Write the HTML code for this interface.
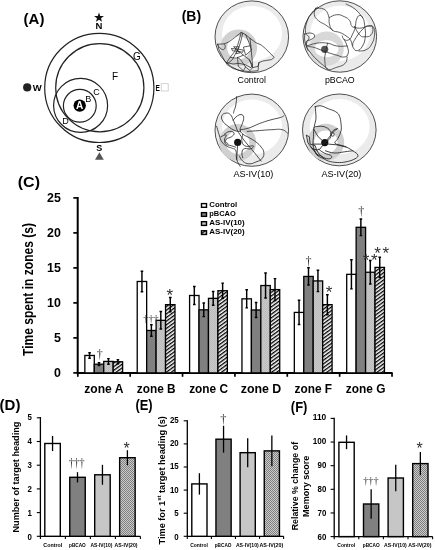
<!DOCTYPE html>
<html lang="en"><head><meta charset="utf-8"><title>Figure</title>
<style>
html,body{margin:0;padding:0;background:#fff;}
body{width:435px;height:550px;overflow:hidden;}
svg{display:block;will-change:transform;}
text{font-family:"Liberation Sans",sans-serif;fill:#000;}
.b{font-weight:bold;}
text.dg{font-family:"Liberation Serif",serif;fill:#333;}
</style></head><body>
<svg width="435" height="550" viewBox="0 0 435 550">
<defs>
<pattern id="hatch" width="2.95" height="2.95" patternUnits="userSpaceOnUse" patternTransform="rotate(-36)">
<rect width="2.95" height="2.95" fill="#fff"/><rect width="2.95" height="1.35" fill="#000"/>
</pattern>
<pattern id="dots" width="2" height="2" patternUnits="userSpaceOnUse">
<rect width="2" height="2" fill="#c9c9c9"/><rect width="1" height="1" fill="#bcbcbc"/><rect x="1" y="1" width="1" height="1" fill="#bcbcbc"/>
</pattern>
<pattern id="fine" width="2" height="2" patternUnits="userSpaceOnUse">
<rect width="2" height="2" fill="#cccccc"/><rect width="1" height="1" fill="#7e7e7e"/><rect x="1" y="1" width="1" height="1" fill="#7e7e7e"/>
</pattern>
</defs>
<rect width="435" height="550" fill="#fff"/>
<g id="panelA">
<text x="23.6" y="23.9" font-size="14.5" class="b" textLength="20.8" lengthAdjust="spacingAndGlyphs">(A)</text>
<polygon points="99.00,12.40 100.23,15.90 103.95,15.99 101.00,18.25 102.06,21.81 99.00,19.70 95.94,21.81 97.00,18.25 94.05,15.99 97.77,15.90" fill="#111"/>
<text x="99" y="29.2" font-size="9.5" class="b" text-anchor="middle">N</text>
<circle cx="99.3" cy="87.9" r="54.6" fill="none" stroke="#222" stroke-width="1.2"/>
<circle cx="99.8" cy="87.7" r="44.1" fill="none" stroke="#222" stroke-width="1.2"/>
<circle cx="80.6" cy="105.4" r="27" fill="none" stroke="#222" stroke-width="1.2"/>
<circle cx="79.8" cy="105.8" r="16.4" fill="none" stroke="#222" stroke-width="1.2"/>
<circle cx="79.7" cy="105.6" r="6.2" fill="#000"/>
<text x="79.7" y="109.2" font-size="10" class="b" text-anchor="middle" fill="#fff" style="fill:#fff">A</text>
<text x="88.3" y="101.7" font-size="9" text-anchor="middle">B</text>
<text x="96.4" y="95.2" font-size="9" text-anchor="middle">C</text>
<text x="65.5" y="124.4" font-size="9" text-anchor="middle">D</text>
<text x="115" y="79.5" font-size="10" text-anchor="middle">F</text>
<text x="136.8" y="59.6" font-size="10" text-anchor="middle">G</text>
<circle cx="27.2" cy="87.4" r="4.1" fill="#222"/>
<text x="32.8" y="90.6" font-size="9.5" class="b">W</text>
<text x="155.6" y="90.7" font-size="9" class="b" textLength="4.4" lengthAdjust="spacingAndGlyphs">E</text>
<rect x="161.2" y="83.7" width="7" height="7.3" fill="#fff" stroke="#c8c8c8" stroke-width="0.8"/>
<text x="99.2" y="150.8" font-size="9" class="b" text-anchor="middle">S</text>
<polygon points="99.4,152.3 95,159.8 103.8,159.8" fill="#555"/>
</g>
<g id="panelB">
<text x="181.7" y="21.4" font-size="14.5" class="b" textLength="19.4" lengthAdjust="spacingAndGlyphs">(B)</text>
<ellipse cx="251.8" cy="36.8" rx="36.8" ry="35.9" fill="#ebebeb" stroke="#3c3c3c" stroke-width="0.9"/>
<ellipse cx="252.1" cy="33.6" rx="30" ry="27.6" fill="#fff"/>
<circle cx="238.7" cy="47.8" r="18.4" fill="#d0d0d0"/>
<ellipse cx="238.7" cy="47.8" rx="11.6" ry="11.6" fill="#fff"/>
<text x="251.8" y="83.2" font-size="8.8" text-anchor="middle">Control</text>
<ellipse cx="339.8" cy="36.5" rx="36.8" ry="35.7" fill="#ebebeb" stroke="#3c3c3c" stroke-width="0.9"/>
<ellipse cx="340.1" cy="33.3" rx="30" ry="27.6" fill="#fff"/>
<circle cx="326.6" cy="48.7" r="17.2" fill="#d8d8d8"/>
<ellipse cx="326.6" cy="48.7" rx="11.8" ry="8.5" fill="#fff"/>
<circle cx="324.7" cy="49.3" r="3.6" fill="#555"/>
<text x="339.8" y="83.2" font-size="8.8" text-anchor="middle">pBCAO</text>
<ellipse cx="251.8" cy="130.2" rx="36.8" ry="36.1" fill="#ebebeb" stroke="#3c3c3c" stroke-width="0.9"/>
<ellipse cx="252.1" cy="127.0" rx="30" ry="27.6" fill="#fff"/>
<circle cx="237.7" cy="142.4" r="18.4" fill="#d0d0d0"/>
<ellipse cx="237.7" cy="142.4" rx="11.6" ry="11.6" fill="#fff"/>
<circle cx="237.7" cy="142.4" r="3.6" fill="#111"/>
<text x="253.4" y="177.0" font-size="9.1" text-anchor="middle">AS-IV(10)</text>
<ellipse cx="339.3" cy="129.9" rx="36.8" ry="35.9" fill="#ebebeb" stroke="#3c3c3c" stroke-width="0.9"/>
<ellipse cx="339.6" cy="126.7" rx="30" ry="27.6" fill="#fff"/>
<circle cx="325.8" cy="142.2" r="18.4" fill="#d0d0d0"/>
<ellipse cx="325.8" cy="142.2" rx="11.6" ry="11.6" fill="#fff"/>
<circle cx="324.8" cy="142.6" r="3.6" fill="#111"/>
<text x="341.4" y="177.0" font-size="9.1" text-anchor="middle">AS-IV(20)</text>
<path d="M217.7 44.2 L224.3 43.9 L228.7 42.0 L234.6 37.6 L241.2 32.4 L245.6 34.6 L250.0 38.3 L255.9 42.7 L261.1 44.9 L265.5 48.6 L269.9 53.0 L274.3 57.4 L271.4 59.6 L262.6 61.1 L258.9 62.6 L258.4 66.5 L258.1 70.7 L249.3 71.5 L240.5 70.7 L233.1 68.5 L227.2 64.8 L222.8 57.4 L219.1 50.1 L217.7 44.2" fill="none" stroke="#222" stroke-width="0.72" stroke-linejoin="round" stroke-linecap="round"/>
<path d="M217.7 44.2 C218.2 45.1 218.4 46.5 219.9 47.9 C221.4 49.2 222.2 49.8 223.6 49.5 C224.9 49.1 225.0 47.9 225.2 46.5 C225.4 45.1 224.5 44.6 224.3 43.9" fill="none" stroke="#222" stroke-width="0.72" stroke-linejoin="round" stroke-linecap="round"/>
<path d="M241.2 32.4 L239.7 38.3 L237.5 45.7 L234.6 51.5 L230.2 57.4 L226.5 62.6 L228.0 63.3 L232.4 59.6 L239.0 47.1 L241.2 39.8 L242.7 33.1" fill="none" stroke="#222" stroke-width="0.72" stroke-linejoin="round" stroke-linecap="round"/>
<path d="M231.7 48.6 L237.5 49.0 L243.4 50.1 L242.7 52.3 L237.5 51.2 L232.4 50.8 L231.7 48.6" fill="none" stroke="#222" stroke-width="0.72" stroke-linejoin="round" stroke-linecap="round"/>
<path d="M233.9 46.8 L239.7 53.0 L236.1 53.7 L239.0 46.8 L233.9 46.8" fill="none" stroke="#222" stroke-width="0.72" stroke-linejoin="round" stroke-linecap="round"/>
<path d="M237.5 50.1 L243.4 55.2 L249.3 59.6 L252.3 64.8 L250.8 67.7 L245.6 64.8 L239.0 63.3 L233.1 64.0 L226.5 62.6" fill="none" stroke="#222" stroke-width="0.72" stroke-linejoin="round" stroke-linecap="round"/>
<path d="M250.0 38.3 L250.8 45.7 L251.5 53.0 L252.3 61.8 L252.5 67.7 L258.1 66.3 L258.9 62.6" fill="none" stroke="#222" stroke-width="0.72" stroke-linejoin="round" stroke-linecap="round"/>
<path d="M245.6 34.6 L249.0 42.7 L251.5 50.1 L245.6 55.2 L243.4 47.1 L250.8 45.7" fill="none" stroke="#222" stroke-width="0.72" stroke-linejoin="round" stroke-linecap="round"/>
<path d="M237.5 57.4 L238.3 66.3 L243.4 70.7 L245.6 67.0 L240.5 59.6 L237.5 57.4" fill="none" stroke="#222" stroke-width="0.72" stroke-linejoin="round" stroke-linecap="round"/>
<path d="M245.6 67.0 L250.0 70.7 L252.5 67.7 L249.3 59.6" fill="none" stroke="#222" stroke-width="0.72" stroke-linejoin="round" stroke-linecap="round"/>
<path d="M230.2 57.4 L236.1 58.2 L243.4 55.2" fill="none" stroke="#222" stroke-width="0.72" stroke-linejoin="round" stroke-linecap="round"/>
<path d="M315.6 8.3 C317.7 8.5 320.7 7.4 323.9 9.2 C327.1 11.0 327.1 12.0 328.5 15.6 C329.9 19.3 328.4 20.2 329.4 23.9 C330.5 27.6 330.2 28.2 332.7 30.3 C335.3 32.5 336.2 31.0 339.5 32.4 C342.9 33.7 343.2 33.9 346.0 35.9 C348.7 37.8 348.7 37.1 350.6 40.1 C352.4 43.1 351.6 45.2 353.3 47.8 C355.0 50.4 355.1 51.0 357.4 50.6 C359.7 50.1 360.6 49.4 362.5 46.0 C364.5 42.5 364.7 41.8 365.3 36.8 C365.8 31.7 365.3 30.4 364.7 25.7 C364.1 21.1 364.3 20.6 362.9 18.0 C361.5 15.5 360.9 15.1 359.2 15.6 C357.6 16.2 357.3 17.2 356.3 20.2 C355.3 23.2 356.1 24.1 355.2 27.6 C354.3 31.0 354.1 31.0 352.6 34.0 C351.1 37.0 351.4 38.2 349.3 39.5 C347.2 40.9 345.9 40.5 344.1 39.5 C342.4 38.6 342.8 36.8 342.3 35.9" fill="none" stroke="#222" stroke-width="0.72" stroke-linejoin="round" stroke-linecap="round"/>
<path d="M315.6 8.3 C315.3 9.9 313.7 11.6 314.3 14.7 C315.0 17.8 315.5 18.0 318.4 20.6 C321.2 23.2 322.2 22.6 325.7 25.0 C329.3 27.4 331.0 29.0 332.7 30.3" fill="none" stroke="#222" stroke-width="0.72" stroke-linejoin="round" stroke-linecap="round"/>
<path d="M329.4 17.5 C331.3 16.8 333.1 14.9 336.8 14.7 C340.5 14.5 340.9 15.1 344.1 16.6 C347.4 18.0 347.8 18.3 349.7 20.6 C351.5 22.9 350.1 24.0 351.5 25.7 C352.9 27.5 352.6 27.0 355.2 27.6 C357.7 28.1 358.2 28.4 361.6 28.0 C365.1 27.5 366.0 25.8 369.0 25.7 C372.0 25.7 372.2 25.3 373.6 27.6 C374.9 29.9 374.9 30.8 374.5 34.9 C374.0 39.1 373.8 40.5 371.7 44.1 C369.7 47.8 369.4 47.9 366.2 49.7 C363.0 51.4 360.7 50.8 358.9 51.1" fill="none" stroke="#222" stroke-width="0.72" stroke-linejoin="round" stroke-linecap="round"/>
<path d="M304.6 34.0 C306.2 33.8 308.5 32.6 311.0 33.1 C313.6 33.6 314.7 34.4 314.7 36.0 C314.7 37.7 313.1 38.2 311.0 39.5 C309.0 40.9 307.4 39.8 306.4 41.4 C305.5 43.0 305.7 44.6 307.4 46.0 C309.0 47.4 309.7 46.2 312.9 47.1 C316.1 48.0 316.6 48.3 320.2 49.7 C323.9 51.0 323.4 51.0 327.6 52.4 C331.7 53.8 332.6 54.0 336.8 55.2 C340.9 56.3 341.3 57.5 344.1 57.0 C347.0 56.6 347.4 56.1 348.2 53.3 C348.9 50.6 348.1 49.4 347.1 46.0 C346.1 42.5 344.9 41.1 344.1 39.5" fill="none" stroke="#222" stroke-width="0.72" stroke-linejoin="round" stroke-linecap="round"/>
<path d="M327.6 43.2 C327.1 45.3 326.4 47.1 325.7 51.5 C325.1 55.9 324.4 56.3 324.8 60.7 C325.3 65.1 324.6 67.3 327.6 69.0 C330.6 70.6 332.4 68.7 336.8 67.3 C341.1 65.9 342.5 66.0 345.1 63.4 C347.6 60.9 346.6 58.6 347.1 57.0" fill="none" stroke="#222" stroke-width="0.72" stroke-linejoin="round" stroke-linecap="round"/>
<path d="M346.0 4.0 C348.3 5.3 350.9 5.7 355.2 9.2 C359.4 12.7 361.0 15.8 362.9 18.0" fill="none" stroke="#222" stroke-width="0.72" stroke-linejoin="round" stroke-linecap="round"/>
<path d="M304.6 34.0 C304.8 36.6 303.9 39.3 305.5 44.1 C307.1 49.0 307.8 49.1 311.0 53.3 C314.3 57.6 314.3 57.1 318.4 61.1 C322.5 65.0 325.3 67.0 327.6 69.0" fill="none" stroke="#222" stroke-width="0.72" stroke-linejoin="round" stroke-linecap="round"/>
<path d="M307.4 46.0 C309.7 45.3 311.5 43.9 316.6 43.2 C321.6 42.5 322.5 42.5 327.6 43.2 C332.6 43.9 331.9 45.3 336.8 46.0 C341.7 46.7 344.5 46.0 347.1 46.0" fill="none" stroke="#222" stroke-width="0.72" stroke-linejoin="round" stroke-linecap="round"/>
<path d="M317.7 7.0 C316.2 8.5 314.2 9.6 311.6 13.1 C309.0 16.6 308.8 16.2 307.2 21.0 C305.7 25.8 305.1 28.2 305.5 32.3 C305.9 36.5 308.8 34.7 309.0 37.6 C309.2 40.4 306.6 40.4 306.4 43.7 C306.1 47.0 307.7 48.9 308.1 50.7" fill="none" stroke="#222" stroke-width="0.72" stroke-linejoin="round" stroke-linecap="round"/>
<path d="M354.4 26.2 C355.7 28.4 357.0 32.3 359.7 34.9 C362.3 37.6 362.1 36.7 364.9 36.7 C367.7 36.7 369.0 37.1 371.0 34.9 C373.0 32.8 373.2 30.1 372.8 28.0 C372.3 25.8 371.7 26.0 369.3 26.2 C366.9 26.4 366.9 25.3 363.1 28.8 C359.4 32.3 357.0 35.9 354.4 40.2 C351.8 44.4 353.1 44.4 352.7 45.8" fill="none" stroke="#222" stroke-width="0.72" stroke-linejoin="round" stroke-linecap="round"/>
<path d="M236.7 96.5 C236.5 98.7 236.5 101.7 235.8 105.2 C235.2 108.7 234.7 108.5 234.1 110.5 C233.5 112.4 233.7 112.4 233.6 113.1" fill="none" stroke="#222" stroke-width="0.8" stroke-linejoin="round" stroke-linecap="round"/>
<path d="M240.2 131.4 C238.9 131.2 238.0 131.9 235.0 130.6 C231.9 129.3 231.0 128.6 228.0 126.2 C224.9 123.8 224.3 123.6 222.7 121.0 C221.2 118.3 221.0 117.7 221.9 115.7 C222.7 113.8 224.0 113.3 226.2 113.1 C228.4 112.9 228.8 113.1 230.6 114.8 C232.3 116.6 231.9 117.3 233.2 120.1 C234.5 122.9 234.5 123.1 235.8 126.2 C237.1 129.3 236.1 128.4 238.5 132.3 C240.9 136.3 241.5 136.9 245.4 141.9 C249.4 147.0 250.3 147.6 254.2 152.4 C258.1 157.2 259.4 159.0 261.2 161.1" fill="none" stroke="#222" stroke-width="0.8" stroke-linejoin="round" stroke-linecap="round"/>
<path d="M233.2 120.1 C234.3 119.0 235.4 117.0 237.6 115.7 C239.8 114.4 240.4 114.2 242.0 114.8 C243.5 115.5 243.7 115.9 243.7 118.3 C243.7 120.7 242.8 121.6 242.0 124.5 C241.1 127.3 240.0 127.3 240.2 129.7 C240.4 132.1 240.6 132.1 242.8 134.1 C245.0 136.0 245.7 135.6 248.9 137.6 C252.2 139.5 252.9 139.5 255.9 141.9 C259.0 144.3 259.2 144.5 261.2 147.2 C263.1 149.8 263.6 149.6 263.8 152.4 C264.0 155.2 264.0 156.1 262.0 158.5 C260.1 160.9 259.2 160.7 255.9 162.0 C252.7 163.3 252.2 164.0 248.9 163.8 C245.7 163.5 245.2 163.1 242.8 161.1 C240.4 159.2 240.2 157.2 239.3 155.9" fill="none" stroke="#222" stroke-width="0.8" stroke-linejoin="round" stroke-linecap="round"/>
<path d="M240.2 129.7 C242.4 129.3 244.1 129.5 248.9 128.0 C253.7 126.4 254.2 125.6 259.4 123.6 C264.7 121.6 264.7 121.6 269.9 120.1 C275.1 118.6 276.9 118.6 280.4 117.5 C283.9 116.4 283.0 116.2 283.9 115.7" fill="none" stroke="#222" stroke-width="0.8" stroke-linejoin="round" stroke-linecap="round"/>
<path d="M247.2 131.4 C250.3 131.2 253.3 131.0 259.4 130.6 C265.5 130.1 266.0 129.9 271.7 129.7 C277.3 129.5 278.2 128.8 282.1 129.7 C286.1 130.6 286.1 132.3 287.4 133.2" fill="none" stroke="#222" stroke-width="0.8" stroke-linejoin="round" stroke-linecap="round"/>
<path d="M216.6 126.2 C217.3 128.4 217.9 131.0 219.2 134.9 C220.6 138.9 219.9 139.1 221.9 141.9 C223.8 144.8 224.7 144.8 227.1 146.3 C229.5 147.8 229.3 147.0 231.5 148.0 C233.7 149.1 234.5 147.8 235.8 150.7 C237.1 153.5 235.6 155.5 236.7 159.4 C237.8 163.3 239.3 164.6 240.2 166.4" fill="none" stroke="#222" stroke-width="0.8" stroke-linejoin="round" stroke-linecap="round"/>
<path d="M224.5 134.1 C225.8 133.4 227.3 131.7 229.7 131.4 C232.1 131.2 233.7 131.9 234.1 133.2 C234.5 134.5 233.4 135.2 231.5 136.7 C229.5 138.2 227.8 137.6 226.2 139.3 C224.7 141.1 224.0 142.1 225.4 143.7 C226.7 145.3 228.8 144.9 231.5 145.8 C234.1 146.6 234.7 146.8 235.8 147.2" fill="none" stroke="#222" stroke-width="0.8" stroke-linejoin="round" stroke-linecap="round"/>
<path d="M221.0 136.7 C222.3 136.3 225.4 134.1 226.2 134.9 C227.1 135.8 224.0 138.0 224.5 140.2 C224.9 142.4 227.1 142.8 228.0 143.7" fill="none" stroke="#222" stroke-width="0.8" stroke-linejoin="round" stroke-linecap="round"/>
<path d="M242.8 134.1 C242.6 136.0 241.1 138.9 242.0 141.9 C242.8 145.0 243.5 145.3 246.3 146.3 C249.2 147.3 252.2 145.1 253.3 145.8 C254.4 146.4 252.9 148.2 250.7 148.9 C248.5 149.6 246.8 147.7 244.6 148.6 C242.4 149.4 242.4 150.1 242.0 152.4 C241.5 154.7 242.6 156.3 242.8 157.7" fill="none" stroke="#222" stroke-width="0.8" stroke-linejoin="round" stroke-linecap="round"/>
<path d="M237.6 145.4 L236.7 159.4" fill="none" stroke="#222" stroke-width="0.8" stroke-linejoin="round" stroke-linecap="round"/>
<path d="M315.2 106.6 C316.4 106.5 318.5 105.4 321.1 105.9 C323.8 106.3 325.5 107.7 328.5 108.8 C331.4 110.0 333.6 110.3 335.8 111.8 C338.0 113.2 338.5 113.8 339.5 116.2 C340.5 118.5 340.7 120.6 341.0 123.5 C341.3 126.5 341.6 128.0 341.0 130.9 C340.4 133.8 339.2 135.8 338.0 138.3 C336.9 140.8 333.8 141.8 335.1 143.4 C336.4 145.0 341.1 144.9 344.7 146.3 C348.2 147.8 350.1 149.0 352.8 150.8 C355.4 152.5 357.5 153.6 357.9 155.2 C358.3 156.8 357.3 157.5 355.0 158.8 C352.6 160.2 349.7 161.1 346.1 161.8 C342.6 162.5 340.8 162.7 337.3 162.5 C333.8 162.4 331.1 161.8 328.5 161.1 C325.8 160.3 326.1 159.9 324.1 158.8 C322.0 157.8 320.1 157.5 318.2 155.9 C316.3 154.3 315.5 153.1 314.5 150.8 C313.5 148.4 313.2 146.9 313.0 144.1 C312.8 141.3 313.3 139.7 313.5 136.8 C313.6 133.8 313.5 132.1 313.8 129.4 C314.1 126.8 314.5 125.9 314.9 123.5 C315.4 121.2 315.9 121.0 316.0 117.7 C316.0 114.3 315.4 108.8 315.2 106.6" fill="none" stroke="#222" stroke-width="0.85" stroke-linejoin="round" stroke-linecap="round"/>
<path d="M313.8 128.0 C314.5 127.6 313.8 126.7 316.7 126.5 C319.7 126.3 322.0 125.7 325.5 127.2 C329.0 128.7 329.6 129.6 330.7 132.4 C331.8 135.1 331.2 135.9 330.0 138.3 C328.7 140.6 326.6 141.0 325.5 141.9" fill="none" stroke="#222" stroke-width="0.85" stroke-linejoin="round" stroke-linecap="round"/>
<path d="M313.8 129.4 L318.2 136.8 L324.8 142.7 L333.6 131.6 L337.3 128.7" fill="none" stroke="#222" stroke-width="0.85" stroke-linejoin="round" stroke-linecap="round"/>
<path d="M337.3 128.7 C336.4 129.1 335.3 128.8 333.6 130.2 C332.0 131.5 330.8 132.6 330.7 134.1 C330.6 135.6 332.3 136.3 333.2 136.2 C334.0 136.0 334.3 134.4 334.1 133.5 C333.8 132.7 332.6 132.9 332.2 132.7" fill="none" stroke="#222" stroke-width="0.85" stroke-linejoin="round" stroke-linecap="round"/>
<path d="M324.8 142.7 L328.5 144.1 L337.3 144.9 L346.1 147.1" fill="none" stroke="#222" stroke-width="0.85" stroke-linejoin="round" stroke-linecap="round"/>
<path d="M306.4 135.3 L309.4 136.8 L310.1 144.1 L315.2 145.6 L316.7 150.0 L312.3 148.6 L307.9 142.7 L306.4 135.3" fill="none" stroke="#222" stroke-width="0.85" stroke-linejoin="round" stroke-linecap="round"/>
<path d="M313.0 144.1 L321.1 144.1 L324.8 142.7 L319.7 149.3 L316.7 150.0" fill="none" stroke="#222" stroke-width="0.85" stroke-linejoin="round" stroke-linecap="round"/>
<path d="M316.7 150.0 C317.8 151.5 318.2 153.7 321.1 155.9 C324.1 158.1 325.9 158.8 328.5 158.8 C331.1 158.8 332.5 157.4 331.4 155.9 C330.3 154.4 327.2 154.6 324.1 153.0 C320.9 151.3 320.2 150.2 318.9 149.3" fill="none" stroke="#222" stroke-width="0.85" stroke-linejoin="round" stroke-linecap="round"/>
<path d="M310.8 147.1 L314.5 150.8 L316.7 154.4 L321.1 155.9 L324.1 158.8" fill="none" stroke="#222" stroke-width="0.85" stroke-linejoin="round" stroke-linecap="round"/>
<path d="M325.5 150.8 C327.7 151.3 329.6 152.7 334.4 153.0 C339.1 153.2 340.1 152.3 344.7 151.8 C349.3 151.2 350.7 151.0 352.8 150.8" fill="none" stroke="#222" stroke-width="0.85" stroke-linejoin="round" stroke-linecap="round"/>
<path d="M312.3 148.6 L316.0 153.0 L318.2 155.9" fill="none" stroke="#222" stroke-width="0.85" stroke-linejoin="round" stroke-linecap="round"/>
</g>
<g id="panelC">
<text x="17.8" y="187.3" font-size="14.8" class="b" textLength="22.2" lengthAdjust="spacingAndGlyphs">(C)</text>
<path d="M77.7 197 V372.9 H392.6" fill="none" stroke="#000" stroke-width="2"/>
<path d="M73.3 372.90 H77.8" stroke="#000" stroke-width="1.7"/>
<text x="60.9" y="376.9" font-size="12.2" class="b" text-anchor="end" textLength="6.9" lengthAdjust="spacingAndGlyphs">0</text>
<path d="M73.3 337.90 H77.8" stroke="#000" stroke-width="1.7"/>
<text x="60.9" y="341.9" font-size="12.2" class="b" text-anchor="end" textLength="6.9" lengthAdjust="spacingAndGlyphs">5</text>
<path d="M73.3 302.90 H77.8" stroke="#000" stroke-width="1.7"/>
<text x="60.9" y="306.9" font-size="12.2" class="b" text-anchor="end" textLength="13.8" lengthAdjust="spacingAndGlyphs">10</text>
<path d="M73.3 267.90 H77.8" stroke="#000" stroke-width="1.7"/>
<text x="60.9" y="271.9" font-size="12.2" class="b" text-anchor="end" textLength="13.8" lengthAdjust="spacingAndGlyphs">15</text>
<path d="M73.3 232.90 H77.8" stroke="#000" stroke-width="1.7"/>
<text x="60.9" y="236.9" font-size="12.2" class="b" text-anchor="end" textLength="13.8" lengthAdjust="spacingAndGlyphs">20</text>
<path d="M73.3 197.90 H77.8" stroke="#000" stroke-width="1.7"/>
<text x="60.9" y="201.9" font-size="12.2" class="b" text-anchor="end" textLength="13.8" lengthAdjust="spacingAndGlyphs">25</text>
<path d="M77.80 372.9 V376.8" stroke="#000" stroke-width="1.7"/>
<path d="M130.17 372.9 V376.8" stroke="#000" stroke-width="1.7"/>
<path d="M182.54 372.9 V376.8" stroke="#000" stroke-width="1.7"/>
<path d="M234.91 372.9 V376.8" stroke="#000" stroke-width="1.7"/>
<path d="M287.28 372.9 V376.8" stroke="#000" stroke-width="1.7"/>
<path d="M339.65 372.9 V376.8" stroke="#000" stroke-width="1.7"/>
<path d="M392.02 372.9 V376.8" stroke="#000" stroke-width="1.7"/>
<text x="32.9" y="356" font-size="14.3" class="b" textLength="133" lengthAdjust="spacingAndGlyphs" transform="rotate(-90 32.9 356)">Time spent in zones (s)</text>
<rect x="84.85" y="355.47" width="9.44" height="17.43" fill="#fff" stroke="#000" stroke-width="1.3"/>
<rect x="94.29" y="364.22" width="9.44" height="8.68" fill="#808080" stroke="#000" stroke-width="1.3"/>
<rect x="103.73" y="361.42" width="9.44" height="11.48" fill="url(#dots)" stroke="#000" stroke-width="1.3"/>
<rect x="113.17" y="361.77" width="9.44" height="11.13" fill="url(#hatch)" stroke="#000" stroke-width="1.3"/>
<path d="M89.57 352.25 V358.69 M88.27 352.75 h2.6 M88.27 358.19 h2.6" stroke="#000" stroke-width="1.45" fill="none"/>
<path d="M99.01 362.33 V366.11 M97.71 362.83 h2.6 M97.71 365.61 h2.6" stroke="#000" stroke-width="1.45" fill="none"/>
<path d="M108.45 358.13 V364.71 M107.15 358.63 h2.6 M107.15 364.21 h2.6" stroke="#000" stroke-width="1.45" fill="none"/>
<path d="M117.89 359.32 V364.22 M116.59 359.82 h2.6 M116.59 363.72 h2.6" stroke="#000" stroke-width="1.45" fill="none"/>
<rect x="137.22" y="281.48" width="9.44" height="91.42" fill="#fff" stroke="#000" stroke-width="1.3"/>
<rect x="146.66" y="330.48" width="9.44" height="42.42" fill="#808080" stroke="#000" stroke-width="1.3"/>
<rect x="156.10" y="320.33" width="9.44" height="52.57" fill="url(#dots)" stroke="#000" stroke-width="1.3"/>
<rect x="165.54" y="304.65" width="9.44" height="68.25" fill="url(#hatch)" stroke="#000" stroke-width="1.3"/>
<text class="dg" x="151" y="322" font-size="11.2" text-anchor="middle" textLength="15.6" lengthAdjust="spacingAndGlyphs">†††</text>
<path d="M141.94 270.70 V292.26 M140.64 271.20 h2.6 M140.64 291.76 h2.6" stroke="#000" stroke-width="1.45" fill="none"/>
<path d="M151.38 324.18 V336.78 M150.08 324.68 h2.6 M150.08 336.28 h2.6" stroke="#000" stroke-width="1.45" fill="none"/>
<path d="M160.82 311.09 V329.57 M159.52 311.59 h2.6 M159.52 329.07 h2.6" stroke="#000" stroke-width="1.45" fill="none"/>
<path d="M170.26 297.02 V312.28 M168.96 297.52 h2.6 M168.96 311.78 h2.6" stroke="#000" stroke-width="1.45" fill="none"/>
<rect x="189.59" y="295.48" width="9.44" height="77.42" fill="#fff" stroke="#000" stroke-width="1.3"/>
<rect x="199.03" y="309.83" width="9.44" height="63.07" fill="#808080" stroke="#000" stroke-width="1.3"/>
<rect x="208.47" y="298.35" width="9.44" height="74.55" fill="url(#dots)" stroke="#000" stroke-width="1.3"/>
<rect x="217.91" y="290.72" width="9.44" height="82.18" fill="url(#hatch)" stroke="#000" stroke-width="1.3"/>
<path d="M194.31 285.96 V305.00 M193.01 286.46 h2.6 M193.01 304.50 h2.6" stroke="#000" stroke-width="1.45" fill="none"/>
<path d="M203.75 302.55 V317.11 M202.45 303.05 h2.6 M202.45 316.61 h2.6" stroke="#000" stroke-width="1.45" fill="none"/>
<path d="M213.19 290.93 V305.77 M211.89 291.43 h2.6 M211.89 305.27 h2.6" stroke="#000" stroke-width="1.45" fill="none"/>
<path d="M222.63 282.60 V298.84 M221.33 283.10 h2.6 M221.33 298.34 h2.6" stroke="#000" stroke-width="1.45" fill="none"/>
<rect x="241.96" y="298.84" width="9.44" height="74.06" fill="#fff" stroke="#000" stroke-width="1.3"/>
<rect x="251.40" y="309.97" width="9.44" height="62.93" fill="#808080" stroke="#000" stroke-width="1.3"/>
<rect x="260.84" y="285.54" width="9.44" height="87.36" fill="url(#dots)" stroke="#000" stroke-width="1.3"/>
<rect x="270.28" y="289.60" width="9.44" height="83.30" fill="url(#hatch)" stroke="#000" stroke-width="1.3"/>
<path d="M246.68 289.32 V308.36 M245.38 289.82 h2.6 M245.38 307.86 h2.6" stroke="#000" stroke-width="1.45" fill="none"/>
<path d="M256.12 301.99 V317.95 M254.82 302.49 h2.6 M254.82 317.45 h2.6" stroke="#000" stroke-width="1.45" fill="none"/>
<path d="M265.56 272.59 V298.49 M264.26 273.09 h2.6 M264.26 297.99 h2.6" stroke="#000" stroke-width="1.45" fill="none"/>
<path d="M275.00 278.12 V301.08 M273.70 278.62 h2.6 M273.70 300.58 h2.6" stroke="#000" stroke-width="1.45" fill="none"/>
<rect x="294.33" y="312.42" width="9.44" height="60.48" fill="#fff" stroke="#000" stroke-width="1.3"/>
<rect x="303.77" y="276.44" width="9.44" height="96.46" fill="#808080" stroke="#000" stroke-width="1.3"/>
<rect x="313.21" y="280.92" width="9.44" height="91.98" fill="url(#dots)" stroke="#000" stroke-width="1.3"/>
<rect x="322.65" y="304.65" width="9.44" height="68.25" fill="url(#hatch)" stroke="#000" stroke-width="1.3"/>
<path d="M299.05 299.82 V325.02 M297.75 300.32 h2.6 M297.75 324.52 h2.6" stroke="#000" stroke-width="1.45" fill="none"/>
<path d="M308.49 267.34 V285.54 M307.19 267.84 h2.6 M307.19 285.04 h2.6" stroke="#000" stroke-width="1.45" fill="none"/>
<path d="M317.93 269.72 V292.12 M316.63 270.22 h2.6 M316.63 291.62 h2.6" stroke="#000" stroke-width="1.45" fill="none"/>
<path d="M327.37 294.15 V315.15 M326.07 294.65 h2.6 M326.07 314.65 h2.6" stroke="#000" stroke-width="1.45" fill="none"/>
<rect x="346.70" y="274.34" width="9.44" height="98.56" fill="#fff" stroke="#000" stroke-width="1.3"/>
<rect x="356.14" y="227.30" width="9.44" height="145.60" fill="#808080" stroke="#000" stroke-width="1.3"/>
<rect x="365.58" y="272.24" width="9.44" height="100.66" fill="url(#dots)" stroke="#000" stroke-width="1.3"/>
<rect x="375.02" y="267.41" width="9.44" height="105.49" fill="url(#hatch)" stroke="#000" stroke-width="1.3"/>
<path d="M351.42 259.29 V289.39 M350.12 259.79 h2.6 M350.12 288.89 h2.6" stroke="#000" stroke-width="1.45" fill="none"/>
<path d="M360.86 218.48 V236.12 M359.56 218.98 h2.6 M359.56 235.62 h2.6" stroke="#000" stroke-width="1.45" fill="none"/>
<path d="M370.30 259.92 V284.56 M369.00 260.42 h2.6 M369.00 284.06 h2.6" stroke="#000" stroke-width="1.45" fill="none"/>
<path d="M379.74 256.70 V278.12 M378.44 257.20 h2.6 M378.44 277.62 h2.6" stroke="#000" stroke-width="1.45" fill="none"/>
<text x="103.9" y="392.9" font-size="12" class="b" text-anchor="middle" textLength="39.2" lengthAdjust="spacingAndGlyphs">zone A</text>
<text x="156.2" y="392.9" font-size="12" class="b" text-anchor="middle" textLength="38.8" lengthAdjust="spacingAndGlyphs">zone B</text>
<text x="208.6" y="392.9" font-size="12" class="b" text-anchor="middle" textLength="38.8" lengthAdjust="spacingAndGlyphs">zone C</text>
<text x="261.0" y="392.9" font-size="12" class="b" text-anchor="middle" textLength="40.6" lengthAdjust="spacingAndGlyphs">zone D</text>
<text x="313.3" y="392.9" font-size="12" class="b" text-anchor="middle" textLength="37.6" lengthAdjust="spacingAndGlyphs">zone F</text>
<text x="365.6" y="392.9" font-size="12" class="b" text-anchor="middle" textLength="39.6" lengthAdjust="spacingAndGlyphs">zone G</text>
<rect x="201.5" y="203.60" width="5" height="3.7" fill="#fff" stroke="#000" stroke-width="1.4"/>
<text x="209.3" y="207.3" font-size="8" class="b" textLength="27.8" lengthAdjust="spacingAndGlyphs">Control</text>
<rect x="201.5" y="212.65" width="5" height="3.7" fill="#808080" stroke="#000" stroke-width="1.4"/>
<text x="209.3" y="216.35" font-size="8" class="b" textLength="26.5" lengthAdjust="spacingAndGlyphs">pBCAO</text>
<rect x="201.5" y="221.70" width="5" height="3.7" fill="url(#dots)" stroke="#000" stroke-width="1.4"/>
<text x="209.3" y="225.4" font-size="8" class="b" textLength="35.4" lengthAdjust="spacingAndGlyphs">AS-IV(10)</text>
<rect x="201.5" y="230.75" width="5" height="3.7" fill="url(#hatch)" stroke="#000" stroke-width="1.4"/>
<text x="209.3" y="234.45" font-size="8" class="b" textLength="35.4" lengthAdjust="spacingAndGlyphs">AS-IV(20)</text>
<text class="dg" x="99.8" y="358" font-size="12" text-anchor="middle">†</text>
<text x="169.7" y="301.3" font-size="17" text-anchor="middle" fill="#2e2e2e" style="fill:#2e2e2e">*</text>
<text class="dg" x="308.4" y="264.6" font-size="12" text-anchor="middle">†</text>
<text x="329" y="298.2" font-size="17" text-anchor="middle" fill="#2e2e2e" style="fill:#2e2e2e">*</text>
<text class="dg" x="361.2" y="214.6" font-size="12" text-anchor="middle">†</text>
<text x="366" y="266.1" font-size="17" text-anchor="middle" fill="#2e2e2e" style="fill:#2e2e2e">*</text>
<text x="374.3" y="266.1" font-size="17" text-anchor="middle" fill="#2e2e2e" style="fill:#2e2e2e">*</text>
<text x="377.5" y="258.7" font-size="17" text-anchor="middle" fill="#2e2e2e" style="fill:#2e2e2e">*</text>
<text x="385.8" y="258.7" font-size="17" text-anchor="middle" fill="#2e2e2e" style="fill:#2e2e2e">*</text>
</g>
<g id="panelD">
<text x="-0.4" y="410.3" font-size="14.5" class="b" textLength="20.8" lengthAdjust="spacingAndGlyphs">(D)</text>
<path d="M40.4 417.0 V536.3 H140.4" fill="none" stroke="#000" stroke-width="1.3"/>
<path d="M36.8 536.30 H40.4" stroke="#000" stroke-width="1.1"/>
<text x="31.799999999999997" y="539.5" font-size="8.8" class="b" text-anchor="end" textLength="4.4" lengthAdjust="spacingAndGlyphs">0</text>
<path d="M36.8 512.60 H40.4" stroke="#000" stroke-width="1.1"/>
<text x="31.799999999999997" y="515.54" font-size="8.8" class="b" text-anchor="end" textLength="4.4" lengthAdjust="spacingAndGlyphs">1</text>
<path d="M36.8 488.90 H40.4" stroke="#000" stroke-width="1.1"/>
<text x="31.799999999999997" y="491.58" font-size="8.8" class="b" text-anchor="end" textLength="4.4" lengthAdjust="spacingAndGlyphs">2</text>
<path d="M36.8 465.20 H40.4" stroke="#000" stroke-width="1.1"/>
<text x="31.799999999999997" y="467.63" font-size="8.8" class="b" text-anchor="end" textLength="4.4" lengthAdjust="spacingAndGlyphs">3</text>
<path d="M36.8 441.50 H40.4" stroke="#000" stroke-width="1.1"/>
<text x="31.799999999999997" y="443.67" font-size="8.8" class="b" text-anchor="end" textLength="4.4" lengthAdjust="spacingAndGlyphs">4</text>
<path d="M36.8 417.80 H40.4" stroke="#000" stroke-width="1.1"/>
<text x="31.799999999999997" y="419.71" font-size="8.8" class="b" text-anchor="end" textLength="4.4" lengthAdjust="spacingAndGlyphs">5</text>
<path d="M40.40 536.3 V538.9" stroke="#000" stroke-width="1.1"/>
<path d="M65.40 536.3 V538.9" stroke="#000" stroke-width="1.1"/>
<path d="M90.40 536.3 V538.9" stroke="#000" stroke-width="1.1"/>
<path d="M115.40 536.3 V538.9" stroke="#000" stroke-width="1.1"/>
<path d="M140.40 536.3 V538.9" stroke="#000" stroke-width="1.1"/>
<rect x="44.80" y="443.49" width="15.5" height="92.81" fill="#fff" stroke="#000" stroke-width="1.4"/>
<rect x="69.75" y="477.31" width="15.5" height="58.99" fill="#808080" stroke="#000" stroke-width="1.4"/>
<rect x="94.70" y="474.80" width="15.5" height="61.50" fill="#c6c6c6" stroke="#000" stroke-width="1.4"/>
<rect x="119.65" y="457.71" width="15.5" height="78.59" fill="url(#fine)" stroke="#000" stroke-width="1.4"/>
<path d="M52.55 435.91 V451.07" stroke="#000" stroke-width="1.3"/>
<path d="M77.50 472.17 V482.45" stroke="#000" stroke-width="1.3"/>
<path d="M102.45 464.84 V484.75" stroke="#000" stroke-width="1.3"/>
<path d="M127.40 450.22 V465.20" stroke="#000" stroke-width="1.3"/>
<text x="52.8" y="546.6" font-size="5.9" class="b" text-anchor="middle" textLength="19" lengthAdjust="spacingAndGlyphs">Control</text>
<text x="77.4" y="546.6" font-size="5.9" class="b" text-anchor="middle" textLength="16.8" lengthAdjust="spacingAndGlyphs">pBCAO</text>
<text x="101.4" y="546.6" font-size="5.9" class="b" text-anchor="middle" textLength="22" lengthAdjust="spacingAndGlyphs">AS-IV(10)</text>
<text x="126.1" y="546.6" font-size="5.9" class="b" text-anchor="middle" textLength="23" lengthAdjust="spacingAndGlyphs">AS-IV(20)</text>
</g>
<g id="panelE">
<text x="135.4" y="409.8" font-size="14.5" class="b" textLength="17.2" lengthAdjust="spacingAndGlyphs">(E)</text>
<path d="M187.3 420.2 V536.3 H283.6" fill="none" stroke="#000" stroke-width="1.3"/>
<path d="M183.70000000000002 536.30 H187.3" stroke="#000" stroke-width="1.1"/>
<text x="178.70000000000002" y="539.5" font-size="8.8" class="b" text-anchor="end" textLength="4.4" lengthAdjust="spacingAndGlyphs">0</text>
<path d="M183.70000000000002 513.20 H187.3" stroke="#000" stroke-width="1.1"/>
<text x="178.70000000000002" y="516.14" font-size="8.8" class="b" text-anchor="end" textLength="4.4" lengthAdjust="spacingAndGlyphs">5</text>
<path d="M183.70000000000002 490.10 H187.3" stroke="#000" stroke-width="1.1"/>
<text x="178.70000000000002" y="492.78" font-size="8.8" class="b" text-anchor="end" textLength="8.8" lengthAdjust="spacingAndGlyphs">10</text>
<path d="M183.70000000000002 467.00 H187.3" stroke="#000" stroke-width="1.1"/>
<text x="178.70000000000002" y="469.42" font-size="8.8" class="b" text-anchor="end" textLength="8.8" lengthAdjust="spacingAndGlyphs">15</text>
<path d="M183.70000000000002 443.90 H187.3" stroke="#000" stroke-width="1.1"/>
<text x="178.70000000000002" y="446.07" font-size="8.8" class="b" text-anchor="end" textLength="8.8" lengthAdjust="spacingAndGlyphs">20</text>
<path d="M183.70000000000002 420.80 H187.3" stroke="#000" stroke-width="1.1"/>
<text x="178.70000000000002" y="422.71" font-size="8.8" class="b" text-anchor="end" textLength="8.8" lengthAdjust="spacingAndGlyphs">25</text>
<path d="M187.30 536.3 V538.9" stroke="#000" stroke-width="1.1"/>
<path d="M211.38 536.3 V538.9" stroke="#000" stroke-width="1.1"/>
<path d="M235.45 536.3 V538.9" stroke="#000" stroke-width="1.1"/>
<path d="M259.53 536.3 V538.9" stroke="#000" stroke-width="1.1"/>
<path d="M283.60 536.3 V538.9" stroke="#000" stroke-width="1.1"/>
<rect x="191.80" y="483.91" width="15.2" height="52.39" fill="#fff" stroke="#000" stroke-width="1.4"/>
<rect x="215.95" y="439.19" width="15.2" height="97.11" fill="#808080" stroke="#000" stroke-width="1.4"/>
<rect x="240.10" y="452.68" width="15.2" height="83.62" fill="#c6c6c6" stroke="#000" stroke-width="1.4"/>
<rect x="264.25" y="450.88" width="15.2" height="85.42" fill="url(#fine)" stroke="#000" stroke-width="1.4"/>
<path d="M199.40 473.19 V494.63" stroke="#000" stroke-width="1.3"/>
<path d="M223.55 425.74 V452.63" stroke="#000" stroke-width="1.3"/>
<path d="M247.70 438.17 V467.18" stroke="#000" stroke-width="1.3"/>
<path d="M271.85 435.40 V466.35" stroke="#000" stroke-width="1.3"/>
<text x="199" y="546.6" font-size="5.9" class="b" text-anchor="middle" textLength="17.6" lengthAdjust="spacingAndGlyphs">Control</text>
<text x="223.1" y="546.6" font-size="5.9" class="b" text-anchor="middle" textLength="16.8" lengthAdjust="spacingAndGlyphs">pBCAO</text>
<text x="247.3" y="546.6" font-size="5.9" class="b" text-anchor="middle" textLength="22.8" lengthAdjust="spacingAndGlyphs">AS-IV(10)</text>
<text x="271.4" y="546.6" font-size="5.9" class="b" text-anchor="middle" textLength="23.8" lengthAdjust="spacingAndGlyphs">AS-IV(20)</text>
</g>
<g id="panelF">
<text x="290.8" y="411.6" font-size="14.5" class="b" textLength="16.6" lengthAdjust="spacingAndGlyphs">(F)</text>
<path d="M334.2 417.8 V536.6 H432.6" fill="none" stroke="#000" stroke-width="1.3"/>
<path d="M330.59999999999997 536.60 H334.2" stroke="#000" stroke-width="1.1"/>
<text x="326.3" y="539.8" font-size="8.8" class="b" text-anchor="end" textLength="8.8" lengthAdjust="spacingAndGlyphs">60</text>
<path d="M330.59999999999997 512.96 H334.2" stroke="#000" stroke-width="1.1"/>
<text x="326.3" y="515.9" font-size="8.8" class="b" text-anchor="end" textLength="8.8" lengthAdjust="spacingAndGlyphs">70</text>
<path d="M330.59999999999997 489.32 H334.2" stroke="#000" stroke-width="1.1"/>
<text x="326.3" y="492.0" font-size="8.8" class="b" text-anchor="end" textLength="8.8" lengthAdjust="spacingAndGlyphs">80</text>
<path d="M330.59999999999997 465.68 H334.2" stroke="#000" stroke-width="1.1"/>
<text x="326.3" y="468.1" font-size="8.8" class="b" text-anchor="end" textLength="8.8" lengthAdjust="spacingAndGlyphs">90</text>
<path d="M330.59999999999997 442.04 H334.2" stroke="#000" stroke-width="1.1"/>
<text x="326.3" y="444.21" font-size="8.8" class="b" text-anchor="end" textLength="13.6" lengthAdjust="spacingAndGlyphs">100</text>
<path d="M330.59999999999997 418.40 H334.2" stroke="#000" stroke-width="1.1"/>
<text x="326.3" y="420.31" font-size="8.8" class="b" text-anchor="end" textLength="13.6" lengthAdjust="spacingAndGlyphs">110</text>
<path d="M334.20 536.6 V539.2" stroke="#000" stroke-width="1.1"/>
<path d="M358.80 536.6 V539.2" stroke="#000" stroke-width="1.1"/>
<path d="M383.40 536.6 V539.2" stroke="#000" stroke-width="1.1"/>
<path d="M408.00 536.6 V539.2" stroke="#000" stroke-width="1.1"/>
<path d="M432.60 536.6 V539.2" stroke="#000" stroke-width="1.1"/>
<rect x="338.90" y="442.30" width="15.3" height="94.30" fill="#fff" stroke="#000" stroke-width="1.4"/>
<rect x="363.50" y="504.00" width="15.3" height="32.60" fill="#808080" stroke="#000" stroke-width="1.4"/>
<rect x="388.10" y="478.00" width="15.3" height="58.60" fill="#c6c6c6" stroke="#000" stroke-width="1.4"/>
<rect x="412.70" y="463.60" width="15.3" height="73.00" fill="url(#fine)" stroke="#000" stroke-width="1.4"/>
<path d="M346.55 435.44 V449.16" stroke="#000" stroke-width="1.3"/>
<path d="M371.15 489.34 V518.66" stroke="#000" stroke-width="1.3"/>
<path d="M395.75 464.81 V491.19" stroke="#000" stroke-width="1.3"/>
<path d="M420.35 452.02 V475.18" stroke="#000" stroke-width="1.3"/>
<text x="346.2" y="546.6" font-size="5.9" class="b" text-anchor="middle" textLength="17.8" lengthAdjust="spacingAndGlyphs">Control</text>
<text x="371.2" y="546.6" font-size="5.9" class="b" text-anchor="middle" textLength="16.9" lengthAdjust="spacingAndGlyphs">pBCAO</text>
<text x="395.4" y="546.6" font-size="5.9" class="b" text-anchor="middle" textLength="22.6" lengthAdjust="spacingAndGlyphs">AS-IV(10)</text>
<text x="419.8" y="546.6" font-size="5.9" class="b" text-anchor="middle" textLength="23.2" lengthAdjust="spacingAndGlyphs">AS-IV(20)</text>
</g>
<text x="18.6" y="532.5" font-size="9.2" class="b" textLength="110.8" lengthAdjust="spacingAndGlyphs" transform="rotate(-90 18.6 532.5)">Number of target heading</text>
<text x="164.6" y="544.5" font-size="9.6" class="b" transform="rotate(-90 164.6 544.5)" textLength="128.4" lengthAdjust="spacingAndGlyphs">Time for 1<tspan font-size="6.2" dy="-3.2">st</tspan><tspan dy="3.2"> target heading (s)</tspan></text>
<text x="298.2" y="530.3" font-size="9.2" class="b" textLength="88.4" lengthAdjust="spacingAndGlyphs" transform="rotate(-90 298.2 530.3)">Relative % change of</text>
<text x="309.4" y="516.9" font-size="9.2" class="b" textLength="61.2" lengthAdjust="spacingAndGlyphs" transform="rotate(-90 309.4 516.9)">Memory score</text>
<text class="dg" x="76.7" y="467.4" font-size="11.8" text-anchor="middle" textLength="16" lengthAdjust="spacingAndGlyphs">†††</text>
<text x="126.6" y="453.9" font-size="16" text-anchor="middle" fill="#2e2e2e" style="fill:#2e2e2e">*</text>
<text class="dg" x="223.4" y="422.6" font-size="12.4" text-anchor="middle">†</text>
<text class="dg" x="370.9" y="484.2" font-size="11.2" text-anchor="middle" textLength="15.4" lengthAdjust="spacingAndGlyphs">†††</text>
<text x="419.7" y="454" font-size="16" text-anchor="middle" fill="#2e2e2e" style="fill:#2e2e2e">*</text>
</svg>
</body></html>
